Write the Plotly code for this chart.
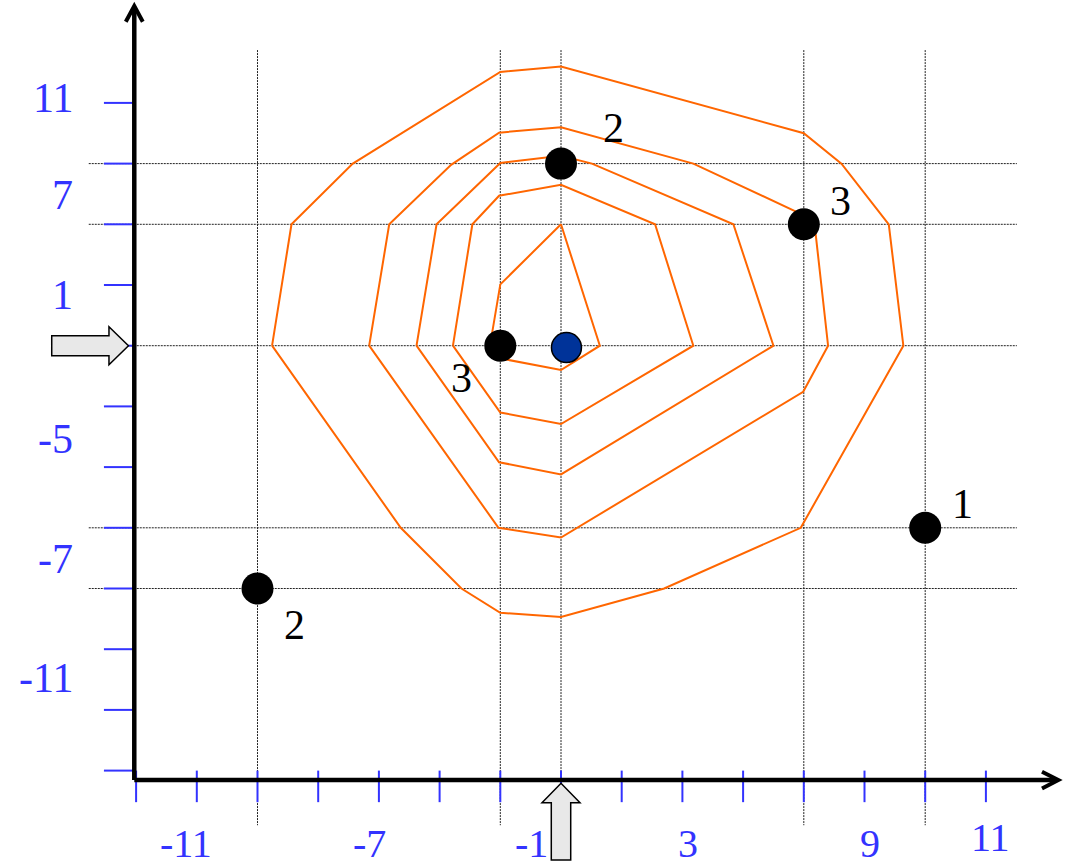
import plotly.graph_objects as go

# ---------------- data (grid units; 1 unit = one tick step, origin = blue point) ----------------
contour1_x = [-4.76, -4.44, -3.43, -1.0, 0.0, 4.0, 4.62, 5.4, 5.64, 3.95, 1.7, 0.0, -1.0, -1.64, -2.64]
contour1_y = [0.0, 2.0, 3.0, 4.51, 4.6, 3.5, 3.0, 2.0, 0.0, -3.0, -4.0, -4.47, -4.4, -4.0, -3.0]

contour2_x = [-3.16, -2.83, -1.81, -1.02, 0.0, 2.18, 4.17, 4.4, 3.99, 0.25, 0.0, -1.03]
contour2_y = [0.0, 2.0, 2.98, 3.51, 3.6, 3.0, 2.07, 0.0, -0.76, -3.0, -3.16, -3.0]

contour3_x = [-2.38, -2.05, -1.0, 0.0, 0.51, 2.84, 3.5, 0.0, -1.02]
contour3_y = [0.0, 2.0, 3.01, 3.13, 3.0, 2.0, 0.0, -2.12, -1.92]

contour4_x = [-1.78, -1.46, -1.02, 0.0, 1.55, 2.18, 0.0, -1.0]
contour4_y = [0.0, 2.0, 2.47, 2.65, 2.0, 0.0, -1.29, -1.1]

contour5_x = [0.0, -1.0, -1.17, -1.05, 0.0, 0.64]
contour5_y = [2.0, 1.01, 0.0, -0.2, -0.4, 0.0]

point_x = [-1, 0, 4, 6, -5]
point_y = [0, 3, 2, -3, -4]
point_labels = ["3", "2", "3", "1", "2"]
label_x = [-1.64, 0.86, 4.61, 6.62, -4.39]
label_y = [-0.54, 3.58, 2.39, -2.61, -4.6]

centre_x = [0.09]
centre_y = [-0.03]

grid_v = [-5, -1, 0, 4, 6]
grid_h = [3, 2, 0, -3, -4]

x_ticks = list(range(-7, 8))
y_ticks = list(range(-7, 5))

y_tick_labels = ["11", "7", "1", "-5", "-7", "-11"]
y_tick_label_pos = [4.08, 2.48, 0.83, -1.53, -3.51, -5.48]
x_tick_labels = ["-11", "-7", "-1", "3", "9", "11"]
x_tick_label_pos = [-6.18, -3.16, -0.49, 2.09, 5.09, 7.07]
x_tick_label_y = [-8.2, -8.2, -8.2, -8.2, -8.2, -8.1]

# ---------------- geometry / style constants ----------------
S = 60.7                 # px per unit
OX, OY = 561.0, 345.7    # origin position in px
W, H = 1066, 865
AX_X = -7.03             # position of vertical axis
AX_Y = -7.155            # position of horizontal axis
ORANGE = "#ff6600"
BLUE = "#3333ff"
FONT = "Liberation Serif, Times New Roman, serif"

fig = go.Figure()

shapes = []
# dotted grid lines
for gx in grid_v:
    shapes.append(dict(type="line", xref="x", yref="y", x0=gx, x1=gx, y0=4.87, y1=-7.9,
                       line=dict(color="#222", width=1, dash="2px,1px"), layer="below"))
for gy in grid_h:
    shapes.append(dict(type="line", xref="x", yref="y", x0=-7.78, x1=7.51, y0=gy, y1=gy,
                       line=dict(color="#222", width=1, dash="2px,1px"), layer="below"))

# blue tick marks
for tx in x_ticks:
    shapes.append(dict(type="line", xref="x", yref="y", x0=tx, x1=tx, y0=-7.0, y1=-7.52,
                       line=dict(color=BLUE, width=2), layer="above"))
for ty in y_ticks:
    shapes.append(dict(type="line", xref="x", yref="y", x0=-7.53, x1=AX_X, y0=ty, y1=ty,
                       line=dict(color=BLUE, width=2), layer="above"))

# axes
shapes.append(dict(type="line", xref="x", yref="y", x0=AX_X, x1=AX_X, y0=AX_Y, y1=5.56,
                   line=dict(color="black", width=4.5), layer="above"))
shapes.append(dict(type="line", xref="x", yref="y", x0=AX_X, x1=8.15, y0=AX_Y, y1=AX_Y,
                   line=dict(color="black", width=4.5), layer="above"))
# axis arrowheads (open chevrons)
shapes.append(dict(type="path", xref="x", yref="y",
                   path=f"M {AX_X-0.14},5.337 L {AX_X},5.596 L {AX_X+0.14},5.337",
                   line=dict(color="black", width=4), layer="above"))
shapes.append(dict(type="path", xref="x", yref="y",
                   path=f"M 7.924,{AX_Y+0.137} L 8.193,{AX_Y} L 7.924,{AX_Y-0.14}",
                   line=dict(color="black", width=4), layer="above"))

# block arrows pointing to the origin row / column
tip_x = -7.126
shapes.append(dict(type="path", xref="x", yref="y",
                   path=(f"M -8.39,0.165 L -7.447,0.165 L -7.447,0.313 L {tip_x},0 "
                         f"L -7.447,-0.313 L -7.447,-0.165 L -8.39,-0.165 Z"),
                   fillcolor="#e8e8e8", line=dict(color="black", width=1.5), layer="above"))
tip_y = -7.209
shapes.append(dict(type="path", xref="x", yref="y",
                   path=(f"M -0.16,-8.473 L -0.16,-7.529 L -0.313,-7.529 L 0,{tip_y} "
                         f"L 0.313,-7.529 L 0.16,-7.529 L 0.16,-8.473 Z"),
                   fillcolor="#e8e8e8", line=dict(color="black", width=1.5), layer="above"))

# contours
for cx, cy in [(contour1_x, contour1_y), (contour2_x, contour2_y), (contour3_x, contour3_y),
               (contour4_x, contour4_y), (contour5_x, contour5_y)]:
    fig.add_trace(go.Scatter(x=cx + cx[:1], y=cy + cy[:1], mode="lines",
                             line=dict(color=ORANGE, width=2), hoverinfo="skip", showlegend=False))

# points
fig.add_trace(go.Scatter(x=point_x, y=point_y, mode="markers",
                         marker=dict(color="black", size=32, line=dict(width=0)),
                         showlegend=False))
fig.add_trace(go.Scatter(x=centre_x, y=centre_y, mode="markers",
                         marker=dict(color="#003399", size=30, line=dict(color="black", width=1.5)),
                         showlegend=False))

annotations = []
for t, x, y in zip(point_labels, label_x, label_y):
    annotations.append(dict(x=x, y=y, xref="x", yref="y", text=t, showarrow=False,
                            xanchor="center", yanchor="middle",
                            font=dict(family=FONT, size=42, color="black")))
for t, y in zip(y_tick_labels, y_tick_label_pos):
    annotations.append(dict(x=-8.0, y=y, xref="x", yref="y", text=t, showarrow=False,
                            xanchor="right", yanchor="middle",
                            font=dict(family=FONT, size=42, color=BLUE)))
for t, x, y in zip(x_tick_labels, x_tick_label_pos, x_tick_label_y):
    annotations.append(dict(x=x, y=y, xref="x", yref="y", text=t, showarrow=False,
                            xanchor="center", yanchor="middle",
                            font=dict(family=FONT, size=40, color=BLUE)))

fig.update_layout(
    width=W, height=H,
    margin=dict(l=0, r=0, t=0, b=0),
    paper_bgcolor="white", plot_bgcolor="white",
    shapes=shapes, annotations=annotations,
    xaxis=dict(range=[-OX / S, (W - OX) / S], visible=False, fixedrange=True),
    yaxis=dict(range=[(OY - H) / S, OY / S], visible=False, fixedrange=True),
    showlegend=False,
)

fig.write_html("out.html", post_script="document.body.style.margin='0';",
               config={"displayModeBar": False})
